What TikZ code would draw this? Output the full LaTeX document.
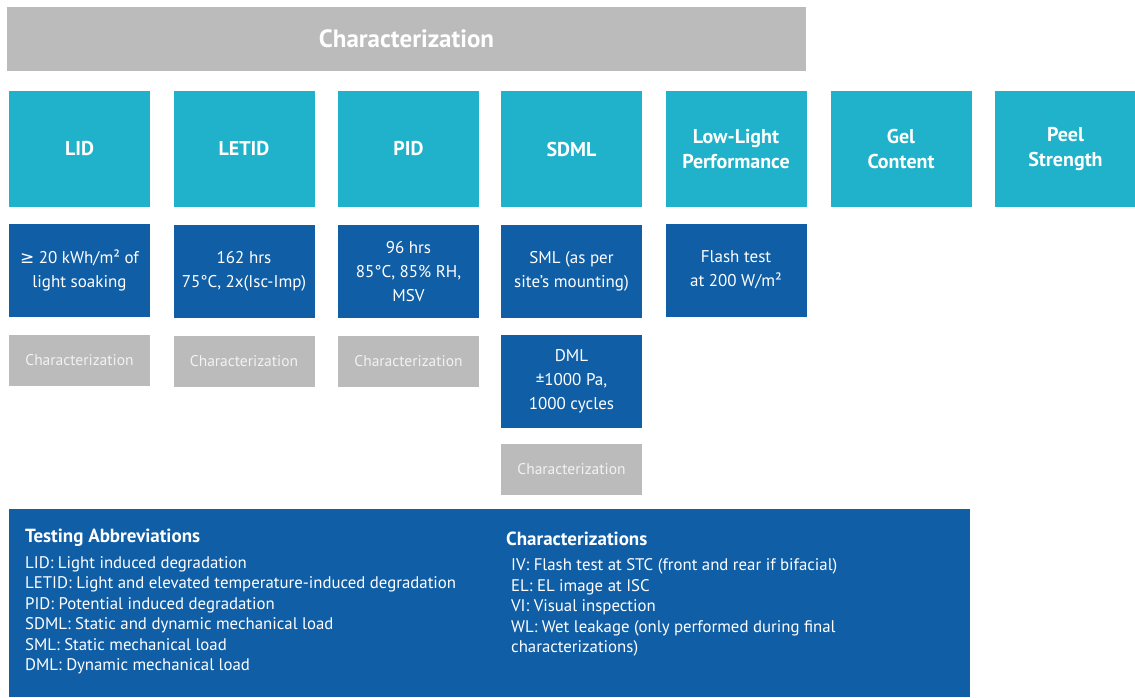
\documentclass[tikz,border=0pt]{standalone}
\usepackage{fontspec}
\setmainfont{PT Sans}
\newfontfamily\symf{DejaVu Sans}
\definecolor{cyanc}{HTML}{1FB2CA}
\definecolor{bluec}{HTML}{105EA5}
\definecolor{grayc}{HTML}{BBBBBB}
\definecolor{chartext}{HTML}{F2F2F2}
\begin{document}
\begin{tikzpicture}[x=1pt,y=-1pt,
  blk/.style={inner sep=0pt, outer sep=0pt, align=center, text=white},
  topbar/.style={blk, fill=grayc, minimum width=799pt, minimum height=64pt, font=\bfseries\fontsize{25}{29}\selectfont},
  hdr/.style={blk, fill=cyanc, minimum width=141pt, minimum height=116pt, font=\bfseries\fontsize{20}{25}\selectfont},
  cond/.style={blk, fill=bluec, minimum width=141pt, minimum height=93pt, font=\fontsize{17}{24}\selectfont},
  chr/.style={blk, fill=grayc, minimum width=141pt, minimum height=51pt, text=chartext, font=\fontsize{15.5}{18}\selectfont},
  legend/.style={blk, fill=bluec, minimum width=961pt, minimum height=188pt},
  lh/.style={anchor=base west, inner sep=0pt, text=white, font=\bfseries\fontsize{19}{22}\selectfont},
  li/.style={anchor=base west, inner sep=0pt, text=white, font=\fontsize{16.8}{20}\selectfont}
]
\useasboundingbox (0,0) rectangle (1135,697);
\fill[white] (0,0) rectangle (1135,697);

\node[topbar] (top) at (406.5,39) {Characterization};

% header row
\node[hdr] (hLID)   at (79.5,149)  {LID};
\node[hdr] (hLETID) at (244,149)   {LETID};
\node[hdr] (hPID)   at (408.5,149) {PID};
\node[hdr] (hSDML)  at (571.5,149) {SDML};
\node[hdr] (hLL)    at (736,149)   {Low-Light\\Performance};
\node[hdr] (hGel)   at (901,149)   {Gel\\Content};
\node[hdr] (hPeel)  at (1065.5,149) {Peel\\Strength};

% condition row
\node[cond] (cLID)   at (79.5,270)  {{\symf ≥} 20 kWh/m² of\\light soaking};
\node[cond] (cLETID) at (244,271)   {162 hrs\\75°C, 2x(Isc-Imp)};
\node[cond] (cPID)   at (408.5,271.5) {96 hrs\\85°C, 85\% RH,\\MSV};
\node[cond] (cSML)   at (571.5,271.5) {SML (as per\\site's mounting)};
\node[cond] (cLL)    at (736,270)   {Flash test\\at 200 W/m²};
\node[cond] (cDML)   at (571.5,381.5) {DML\\±1000 Pa,\\1000 cycles};

% characterization row
\node[chr] (kLID)   at (79.5,360.5)  {Characterization};
\node[chr] (kLETID) at (244,361.5)   {Characterization};
\node[chr] (kPID)   at (408.5,361.5) {Characterization};
\node[chr] (kSDML)  at (571.5,469)   {Characterization};

% legend
\node[legend] (leg) at (489.5,603) {};
\node[lh] (t0) at (25,542) {Testing Abbreviations};
\node[li] (t1) at (25,568) {LID: Light induced degradation};
\node[li] (t2) at (25,588.5) {LETID: Light and elevated temperature-induced degradation};
\node[li] (t3) at (25,609) {PID: Potential induced degradation};
\node[li] (t4) at (25,629.5) {SDML: Static and dynamic mechanical load};
\node[li] (t5) at (25,650) {SML: Static mechanical load};
\node[li] (t6) at (25,670.5) {DML: Dynamic mechanical load};

\node[lh] (s0) at (506,545) {Characterizations};
\node[li] (s1) at (511,570.5) {IV: Flash test at STC (front and rear if bifacial)};
\node[li] (s2) at (511,591) {EL: EL image at ISC};
\node[li] (s3) at (511,611.5) {VI: Visual inspection};
\node[li] (s4) at (511,632) {WL: Wet leakage (only performed during final};
\node[li] (s5) at (511,652.5) {characterizations)};
\end{tikzpicture}
\end{document}
